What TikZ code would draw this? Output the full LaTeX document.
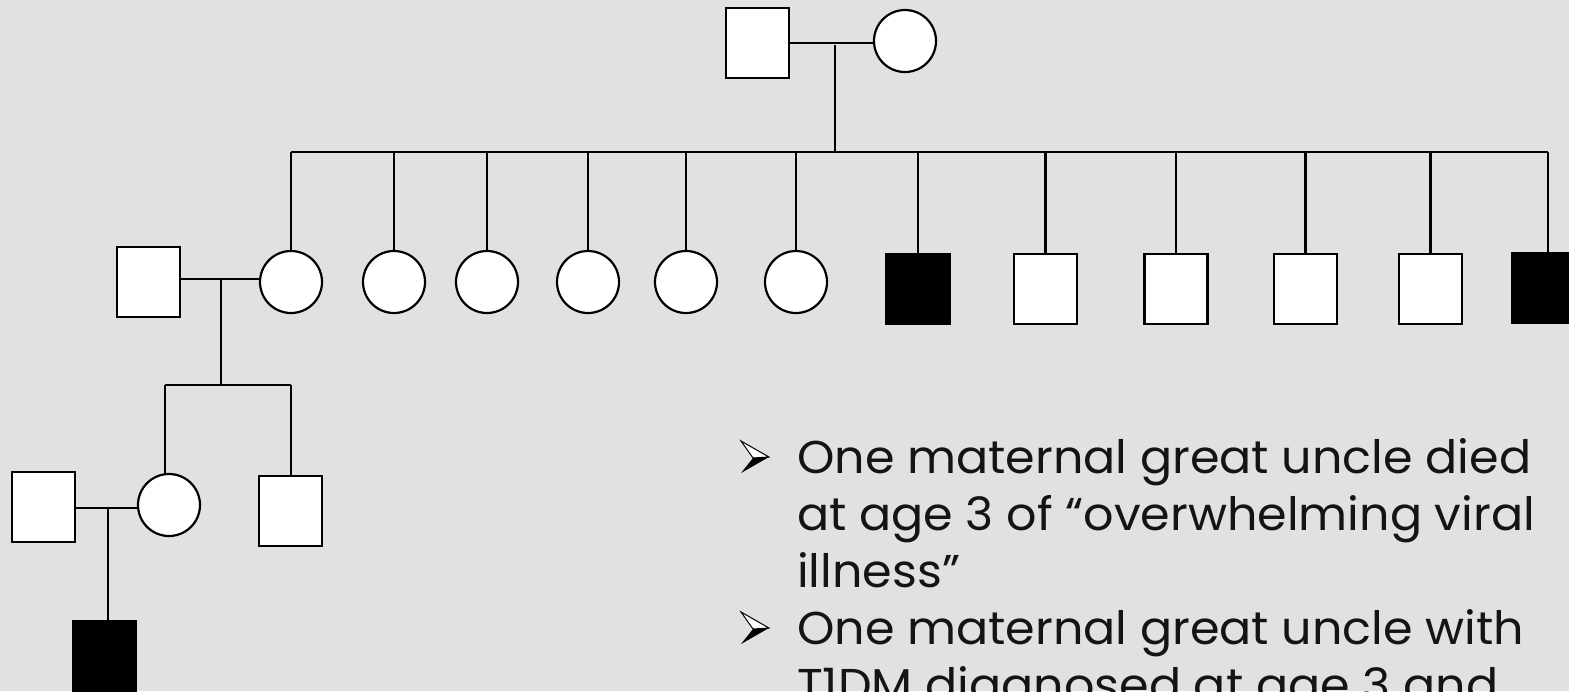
\documentclass[tikz,border=0pt]{standalone}
\usepackage{fontspec}
\setmainfont{Poppins}[FakeStretch=1.035]
\definecolor{bg}{RGB}{225,225,225}
\definecolor{ink}{RGB}{20,20,20}
\begin{document}
\begin{tikzpicture}[x=1pt,y=-1pt,
  sq/.style={draw=black,fill=white,line width=2.4pt,minimum width=63pt,minimum height=70pt,inner sep=0pt,outer sep=0pt},
  sqa/.style={sq,fill=black},
  circ/.style={circle,draw=black,fill=white,line width=2.2pt,minimum size=62pt,inner sep=0pt,outer sep=0pt},
  ln/.style={line width=2.2pt,black},
  txt/.style={anchor=base west,inner sep=0pt,text=ink,font=\fontsize{46}{54}\selectfont},
  arrowmark/.pic={
    \fill[black] (28,16) -- (12,17) -- (0,32) -- cycle;
    \draw[black,fill=white,line width=1pt,line join=miter] (0,0) -- (28,16) -- (12,17) -- cycle;
  }]
\fill[bg] (0,0) rectangle (1569,691);
\useasboundingbox (0,0) rectangle (1569,691);
\clip (0,0) rectangle (1569,691);
% generation 1
\node[sq] (F1) at (757.5,43) {};
\node[circ] (M1) at (905,41) {};
\draw[ln] (F1.east) -- (M1.west |- F1.east);
\coordinate (d1) at (835,45);
\coordinate (sL) at (291,152);
\coordinate (sR) at (1548,152);
\coordinate (sM) at (835,152);
\draw[ln] (d1) -- (sM);
\draw[ln] (sL) -- (sR);
% generation 2
\node[circ] (A1) at (291,282) {};
\node[circ] (A2) at (394,282) {};
\node[circ] (A3) at (487,282) {};
\node[circ] (A4) at (588,282) {};
\node[circ] (A5) at (686,282) {};
\node[circ] (A6) at (796,282) {};
\node[sqa] (B1) at (918,289) {};
\node[sq] (B2) at (1045.5,289) {};
\node[sq] (B3) at (1176,289) {};
\node[sq] (B4) at (1305.5,289) {};
\node[sq] (B5) at (1430.5,289) {};
\node[sqa] (B6) at (1543.5,288) {};
\foreach \n in {A1,A2,A3,A4,A5,A6,B1,B2,B3,B4,B5}
  \draw[ln] (\n.north) -- (\n.north |- sL);
\draw[ln] (sR) -- (sR |- B6.north);
% spouse of A1
\node[sq] (P2) at (148.5,282) {};
\draw[ln] (P2.east |- 0,279) -- (A1.west |- 0,279);
\coordinate (d2) at (221,279);
\coordinate (t2) at (221,385);
\coordinate (uL) at (165,385);
\coordinate (uR) at (291,385);
\draw[ln] (d2) -- (t2);
\draw[ln] (uL) -- (uR);
% generation 3
\node[circ] (G1) at (169,505) {};
\node[sq] (G2) at (290.5,511) {};
\draw[ln] (uL) -- (uL |- G1.north);
\draw[ln] (uR) -- (uR |- G2.north);
\node[sq] (S3) at (43.5,507) {};
\draw[ln] (S3.east |- 0,508) -- (G1.west |- 0,508);
\coordinate (d3) at (108,508);
% generation 4
\node[sqa] (K1) at (104.5,656) {};
\draw[ln] (d3) -- (d3 |- K1.north);
% text
\pic at (741,441) {arrowmark};
\node[txt] (l1) at (797,473) {One maternal great uncle died};
\node[txt] (l2) at (797,530) {at age 3 of “overwhelming viral};
\node[txt] (l3) at (797,587) {illness”};
\pic at (741,612) {arrowmark};
\node[txt] (l4) at (797,644) {One maternal great uncle with};
\node[txt] (l5) at (797,701) {T1DM diagnosed at age 3 and};
\end{tikzpicture}
\end{document}
